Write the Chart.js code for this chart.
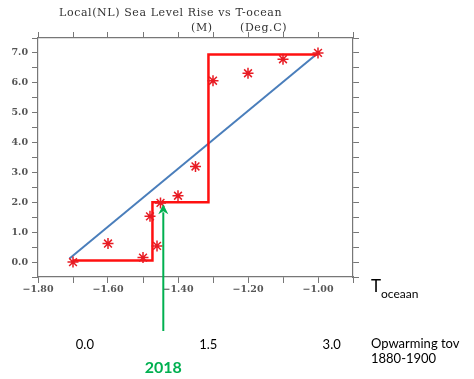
<!DOCTYPE html>
<html>
<head>
<meta charset="utf-8">
<script src="https://cdn.jsdelivr.net/npm/chart.js@4"></script>
<style>
  html, body { margin: 0; padding: 0; background: #fff; }
  #box { width: 474px; height: 379px; }
</style>
</head>
<body>
<div id="box"><canvas id="c"></canvas></div>
<script>
// zeespiegel (m) tegen oceaantemperatuur (deg C)
const obsT = [-1.70, -1.60, -1.50, -1.48, -1.46, -1.45, -1.40, -1.35, -1.30, -1.20, -1.10, -1.00];
const obsSL = [0.0, 0.62, 0.15, 1.53, 0.54, 1.98, 2.22, 3.2, 6.07, 6.32, 6.79, 7.0];

// trapfunctie
const stepT = [-1.70, -1.473, -1.473, -1.313, -1.313, -1.00];
const stepSL = [0.05, 0.05, 2.0, 2.0, 6.95, 6.95];

// lineaire fit
const fitT = [-1.71, -1.00];
const fitSL = [0.12, 7.0];

// opwarming t.o.v. 1880-1900 (tweede as)
const warmTicks = [0.0, 1.5, 3.0];
const warmRange = [-0.570, 3.259];

// 2018 pijl
const year2018T = -1.442;
const year2018SL = 2.0;

const serif = '"DejaVu Serif", "Liberation Serif", serif';
const sans = 'Lato, "Open Sans", sans-serif';
const axisGray = '#777';

const pts = (xs, ys) => xs.map((x, i) => ({ x, y: ys[i] }));

const extras = {
  id: 'extras',
  afterDraw(chart) {
    const { ctx, chartArea, scales } = chart;
    ctx.save();

    // titel
    ctx.fillStyle = '#333';
    ctx.font = '11px ' + serif;
    ctx.letterSpacing = '0.6px';
    ctx.textBaseline = 'alphabetic';
    ctx.textAlign = 'left';
    ctx.fillText('Local(NL) Sea Level Rise vs T-ocean', 59, 16);
    ctx.fillText('(M)', 191, 31);
    ctx.fillText('(Deg.C)', 240, 31);
    ctx.letterSpacing = '0px';

    // 2018 pijl
    const ax = scales.x.getPixelForValue(year2018T);
    const ay = scales.y.getPixelForValue(year2018SL) + 2;
    const bottom = chartArea.bottom + 54;
    ctx.strokeStyle = '#00b050';
    ctx.fillStyle = '#00b050';
    ctx.lineWidth = 2;
    ctx.beginPath();
    ctx.moveTo(ax, bottom);
    ctx.lineTo(ax, ay + 8);
    ctx.stroke();
    ctx.beginPath();
    ctx.moveTo(ax, ay);
    ctx.lineTo(ax - 5, ay + 10);
    ctx.lineTo(ax, ay + 7);
    ctx.lineTo(ax + 5, ay + 10);
    ctx.closePath();
    ctx.fill();

    ctx.font = 'bold 16px ' + sans;
    ctx.textAlign = 'center';
    ctx.fillText('2018', ax, 373);

    // as-titels rechts
    const R = chartArea.right + 18;
    ctx.fillStyle = '#000';
    ctx.textAlign = 'left';
    ctx.font = '17px ' + sans;
    ctx.fillText('T', R, 292);
    const tw = ctx.measureText('T').width;
    ctx.font = '12px ' + sans;
    ctx.fillText('oceaan', R + tw, 298);

    ctx.font = '13px ' + sans;
    ctx.fillText('Opwarming tov', R, 348);
    ctx.fillText('1880-1900', R, 363);
    ctx.restore();
  }
};

const tickGrid = { drawOnChartArea: false, tickLength: 6, color: axisGray };
const tickFont = { family: serif, size: 9.5, weight: 'bold' };

new Chart(document.getElementById('c'), {
  type: 'scatter',
  data: {
    datasets: [
      {
        label: 'fit',
        data: pts(fitT, fitSL),
        showLine: true,
        borderColor: '#4a7ebb',
        borderWidth: 2,
        pointRadius: 0,
        order: 3,
      },
      {
        label: 'stap',
        data: pts(stepT, stepSL),
        showLine: true,
        borderColor: '#ff1010',
        borderWidth: 2.5,
        pointRadius: 0,
        order: 2,
      },
      {
        label: 'obs',
        data: pts(obsT, obsSL),
        pointStyle: 'star',
        pointRadius: 5.5,
        borderColor: '#e81c24',
        backgroundColor: '#e81c24',
        borderWidth: 1.5,
        order: 1,
      },
    ],
  },
  options: {
    responsive: true,
    maintainAspectRatio: false,
    animation: false,
    layout: { padding: { top: 32, left: 0, right: 115, bottom: 0 } },
    plugins: { legend: { display: false }, tooltip: { enabled: false } },
    scales: {
      x: {
        type: 'linear',
        position: 'bottom',
        min: -1.8,
        max: -0.9,
        weight: 0,
        border: { color: axisGray, width: 1.2 },
        grid: tickGrid,
        ticks: {
          stepSize: 0.1,
          autoSkip: false,
          maxRotation: 0,
          padding: 1,
          color: '#555',
          font: tickFont,
          callback: (v) => {
            const k = Math.round(v * 10);
            return k % 2 === 0 && v <= -1.0 ? '\u2212' + Math.abs(v).toFixed(2) : '';
          },
        },
        afterFit: (s) => { s.height = 24; },
      },
      x2: {
        type: 'linear',
        position: 'bottom',
        min: warmRange[0],
        max: warmRange[1],
        weight: 1,
        border: { display: false },
        grid: { display: false },
        afterBuildTicks: (s) => { s.ticks = warmTicks.map((v) => ({ value: v })); },
        ticks: {
          padding: 28,
          color: '#000',
          maxRotation: 0,
          font: { family: sans, size: 13 },
          callback: (v) => Number(v).toFixed(1),
        },
        afterFit: (s) => { s.height = 78; },
      },
      xTop: {
        type: 'linear',
        position: 'top',
        min: -1.8,
        max: -0.9,
        border: { color: axisGray, width: 1.2 },
        grid: tickGrid,
        ticks: { stepSize: 0.1, display: false },
        afterFit: (s) => { s.height = 6; },
      },
      y: {
        type: 'linear',
        position: 'left',
        min: -0.5,
        max: 7.5,
        border: { color: axisGray, width: 1.2 },
        grid: tickGrid,
        ticks: {
          stepSize: 0.5,
          autoSkip: false,
          padding: 4,
          color: '#555',
          font: tickFont,
          callback: (v) => (Number.isInteger(v) ? v.toFixed(1) : ''),
        },
        afterFit: (s) => { s.width = 38; },
      },
      yRight: {
        type: 'linear',
        position: 'right',
        min: -0.5,
        max: 7.5,
        border: { color: axisGray, width: 1.2 },
        grid: tickGrid,
        ticks: { stepSize: 0.5, display: false },
        afterFit: (s) => { s.width = 6; },
      },
    },
  },
  plugins: [extras],
});
</script>
</body>
</html>
